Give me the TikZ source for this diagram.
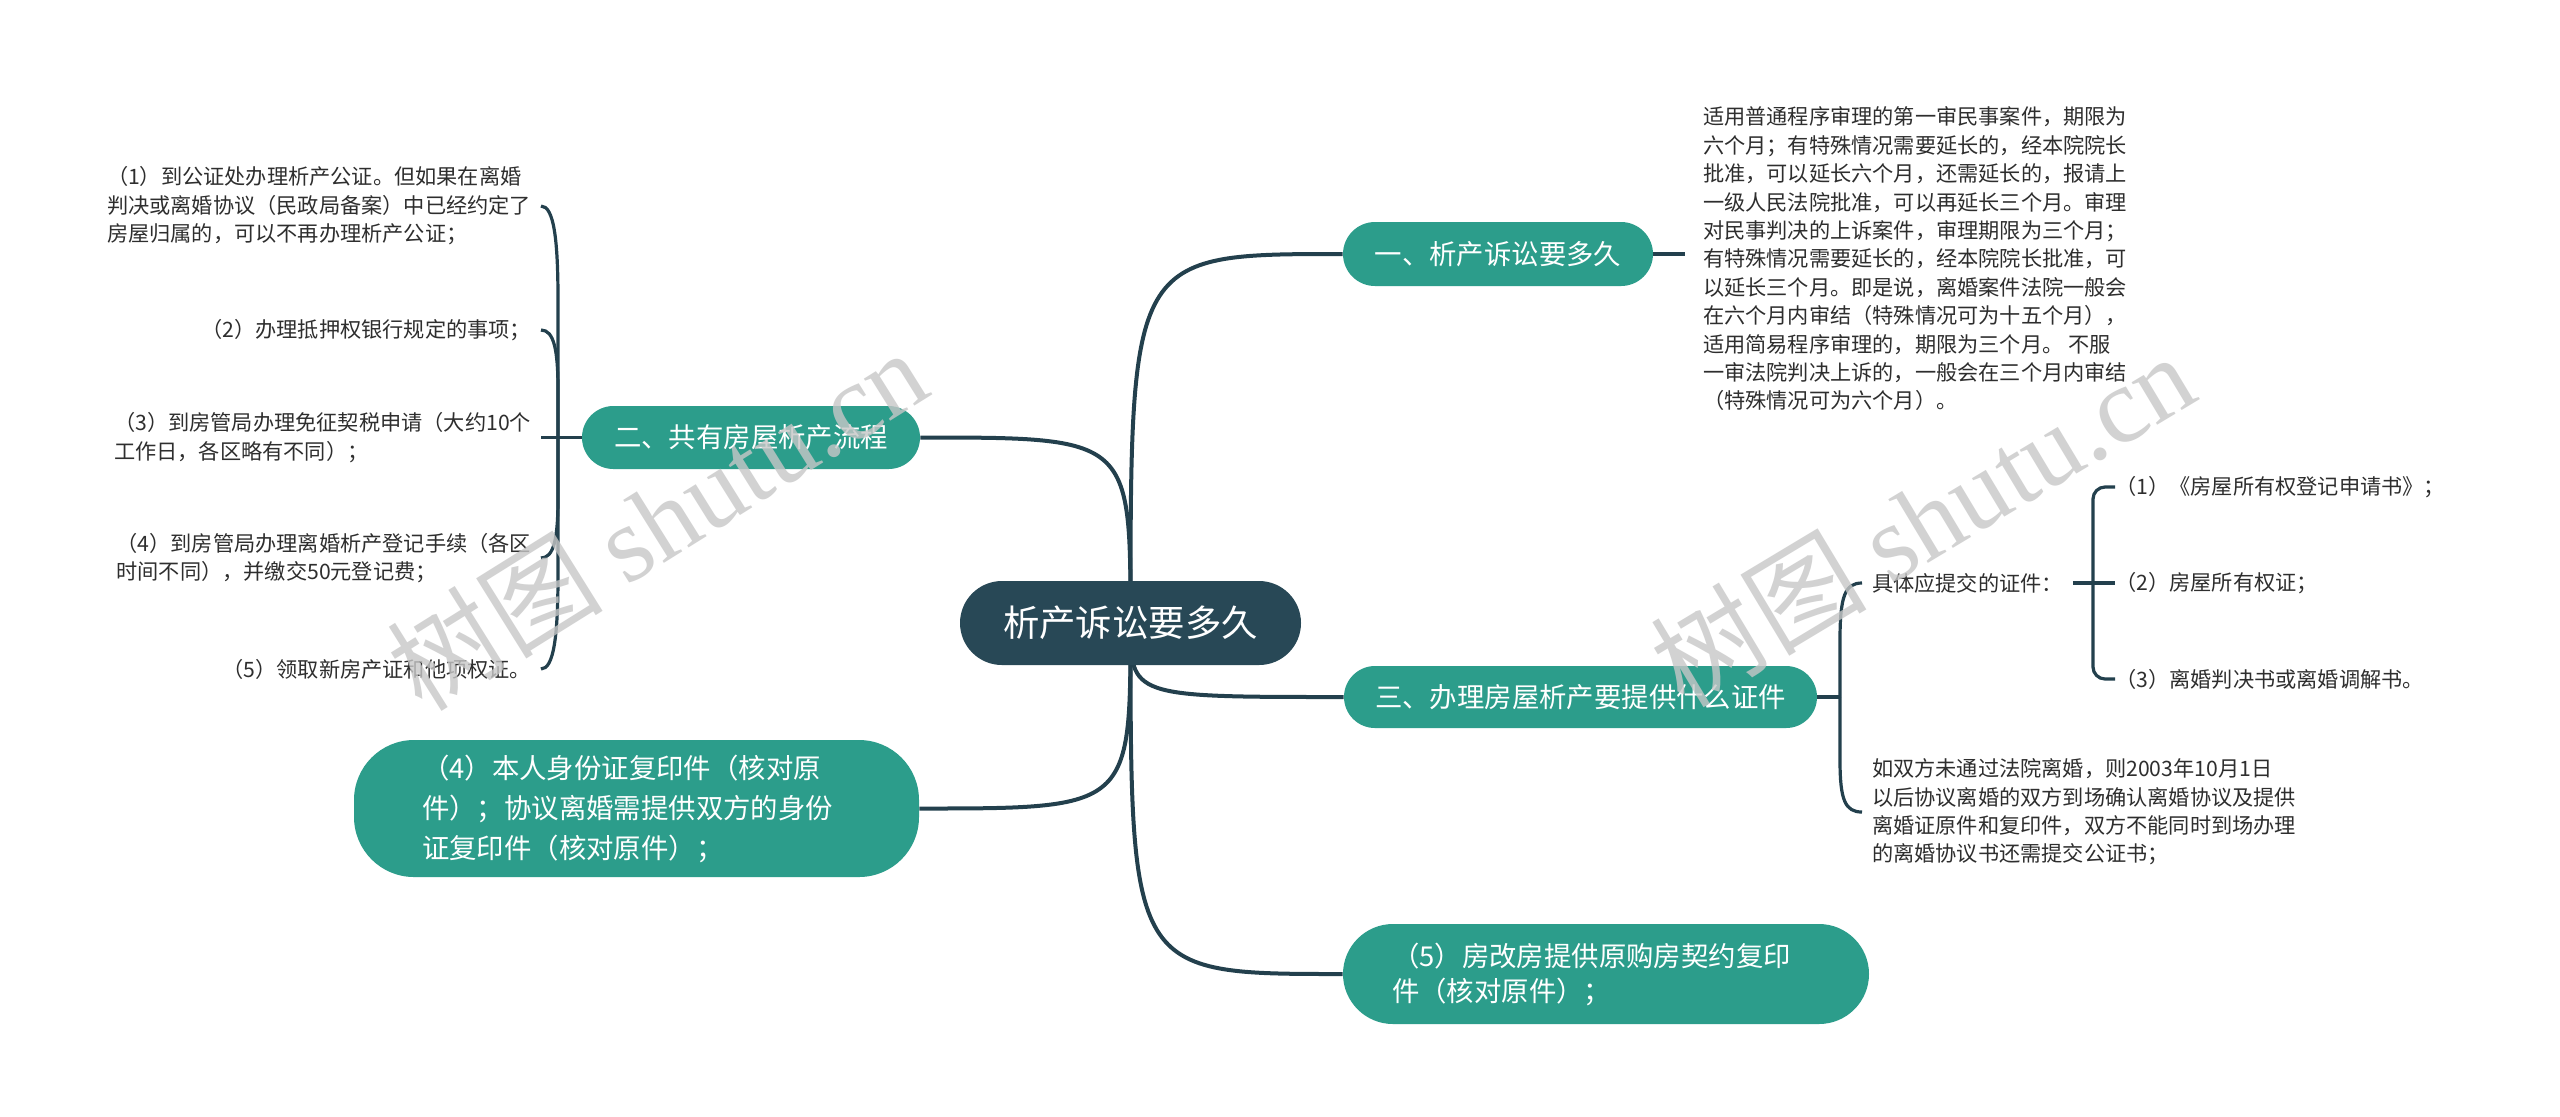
\documentclass[tikz,border=0pt]{standalone}
\usepackage{fontspec}
\setmainfont{Noto Sans CJK SC}
\newfontfamily\wmserif{Liberation Serif}
\definecolor{rootc}{HTML}{284856}
\definecolor{tealc}{HTML}{2C9D8B}
\definecolor{linec}{HTML}{23404D}
\definecolor{txtc}{HTML}{2E2E2E}
\pgfdeclarelayer{background}
\pgfsetlayers{background,main}
\tikzset{
  rootbox/.style={fill=rootc, text=white, rounded corners=21pt, inner sep=0pt,
    minimum width=170.5pt, minimum height=42pt, font=\fontsize{18.2pt}{22pt}\selectfont},
  branch/.style={fill=tealc, text=white, inner sep=0pt, font=\fontsize{13.7pt}{20pt}\selectfont},
  leaf/.style={text=txtc, inner sep=0pt, align=left, font=\fontsize{10.6pt}{14.2pt}\selectfont},
  conn/.style={draw=linec, line width=2pt},
  brk/.style={draw=linec, line width=1.6pt},
  wm/.style={text=black!22, opacity=0.8, inner sep=0pt, font=\fontsize{54pt}{60pt}\selectfont}
}
\begin{document}
\begin{tikzpicture}[x=0.5pt,y=-0.5pt]
\useasboundingbox (0,0) rectangle (2560,1116);

% root and main branches
\node[rootbox] (root) at (1130.5,623) {析产诉讼要多久};
\node[branch, minimum width=155pt, minimum height=32pt, rounded corners=16pt] (b1) at (1498,254) {一、析产诉讼要多久};
\node[branch, minimum width=169pt, minimum height=31.5pt, rounded corners=15.7pt] (b2) at (751,437.5) {二、共有房屋析产流程};
\node[branch, minimum width=236.5pt, minimum height=31pt, rounded corners=15.5pt] (b3) at (1580.5,697) {三、办理房屋析产要提供什么证件};
\node[branch, minimum width=282.5pt, minimum height=68.5pt, rounded corners=30pt, text width=214.5pt, align=left] (b4) at (636.5,808.5) {（4）本人身份证复印件（核对原\\件）；协议离婚需提供双方的身份\\证复印件（核对原件）；};
\node[branch, minimum width=263pt, minimum height=50pt, rounded corners=25pt, text width=214pt, align=left, font=\fontsize{13.7pt}{17.5pt}\selectfont] (b5) at (1606,974) {（5）房改房提供原购房契约复印\\件（核对原件）；};

% branch 1 text
\node[leaf, anchor=west, outer xsep=9pt] (t1) at (1685,259) {适用普通程序审理的第一审民事案件，期限为\\六个月；有特殊情况需要延长的，经本院院长\\批准，可以延长六个月，还需延长的，报请上\\一级人民法院批准，可以再延长三个月。审理\\对民事判决的上诉案件，审理期限为三个月；\\有特殊情况需要延长的，经本院院长批准，可\\以延长三个月。即是说，离婚案件法院一般会\\在六个月内审结（特殊情况可为十五个月），\\适用简易程序审理的，期限为三个月。 不服\\一审法院判决上诉的，一般会在三个月内审结\\（特殊情况可为六个月）。};

% branch 2 items
\node[leaf, anchor=east, outer xsep=5pt] (i1) at (541,206) {（1）到公证处办理析产公证。但如果在离婚\\判决或离婚协议（民政局备案）中已经约定了\\房屋归属的，可以不再办理析产公证；};
\node[leaf, anchor=east, outer xsep=5pt] (i2) at (541,330) {（2）办理抵押权银行规定的事项；};
\node[leaf, anchor=east, outer xsep=5pt] (i3) at (541,437.5) {（3）到房管局办理免征契税申请（大约10个\\工作日，各区略有不同）；};
\node[leaf, anchor=east, outer xsep=5pt] (i4) at (541,558) {（4）到房管局办理离婚析产登记手续（各区\\时间不同），并缴交50元登记费；};
\node[leaf, anchor=east, outer xsep=5pt] (i5) at (541,669) {（5）领取新房产证和他项权证。};
\coordinate (k2) at (558,437.5);

% branch 3 items
\coordinate (k3) at (1840,697);
\node[leaf, anchor=west, outer xsep=5pt] (c1) at (1862,583) {具体应提交的证件：};
\node[leaf, anchor=west, outer xsep=5pt] (c2) at (1862,812) {如双方未通过法院离婚，则2003年10月1日\\以后协议离婚的双方到场确认离婚协议及提供\\离婚证原件和复印件，双方不能同时到场办理\\的离婚协议书还需提交公证书；};
\coordinate (k4) at (2093,583);
\node[leaf, anchor=west] (d1) at (2115,487) {（1）《房屋所有权登记申请书》；};
\node[leaf, anchor=west] (d2) at (2115,583) {（2）房屋所有权证；};
\node[leaf, anchor=west] (d3) at (2115,679) {（3）离婚判决书或离婚调解书。};

\begin{pgfonlayer}{background}
  \fill[white] (0,0) rectangle (2560,1116);
  \draw[conn] (root.center) .. controls (root.center |- b1.west) .. (b1.west);
  \draw[conn] (root.center) .. controls (root.center |- b2.east) .. (b2.east);
  \draw[conn] (root.center) .. controls (root.center |- b3.west) .. (b3.west);
  \draw[conn] (root.center) .. controls (root.center |- b4.east) .. (b4.east);
  \draw[conn] (root.center) .. controls (root.center |- b5.west) .. (b5.west);
  % b1 text
  \draw[brk] (b1.east) -- (b1.east -| t1.west);
  % b2 brace
  \draw[brk] (b2.west) -- (i3.east);
  \draw[brk] (i1.east) .. controls (554,206) and (558,240) .. (558,300) -- (k2);
  \draw[brk] (i2.east) .. controls (554,330) and (558,350) .. (558,390) -- (k2);
  \draw[brk] (i4.east) .. controls (554,558) and (558,538) .. (558,498) -- (k2);
  \draw[brk] (i5.east) .. controls (554,669) and (558,635) .. (558,575) -- (k2);
  % b3 brace
  \draw[brk] (b3.east) -- (k3);
  \draw[brk] (k3) -- (1840,640) .. controls (1840,596) and (1845,583) .. (c1.west);
  \draw[brk] (k3) -- (1840,760) .. controls (1840,800) and (1845,812) .. (c2.west);
  % inner bracket
  \draw[brk] (c1.east) -- (d2.west);
  \draw[brk, rounded corners=6pt] (d1.west) -| (k4);
  \draw[brk, rounded corners=6pt] (d3.west) -| (k4);
\end{pgfonlayer}

% watermarks
\node[wm, rotate=32] (wm1) at (657,519) {树图 {\wmserif shutu.cn}};
\node[wm, rotate=31] (wm2) at (1922,519) {树图 {\wmserif shutu.cn}};
\end{tikzpicture}
\end{document}
